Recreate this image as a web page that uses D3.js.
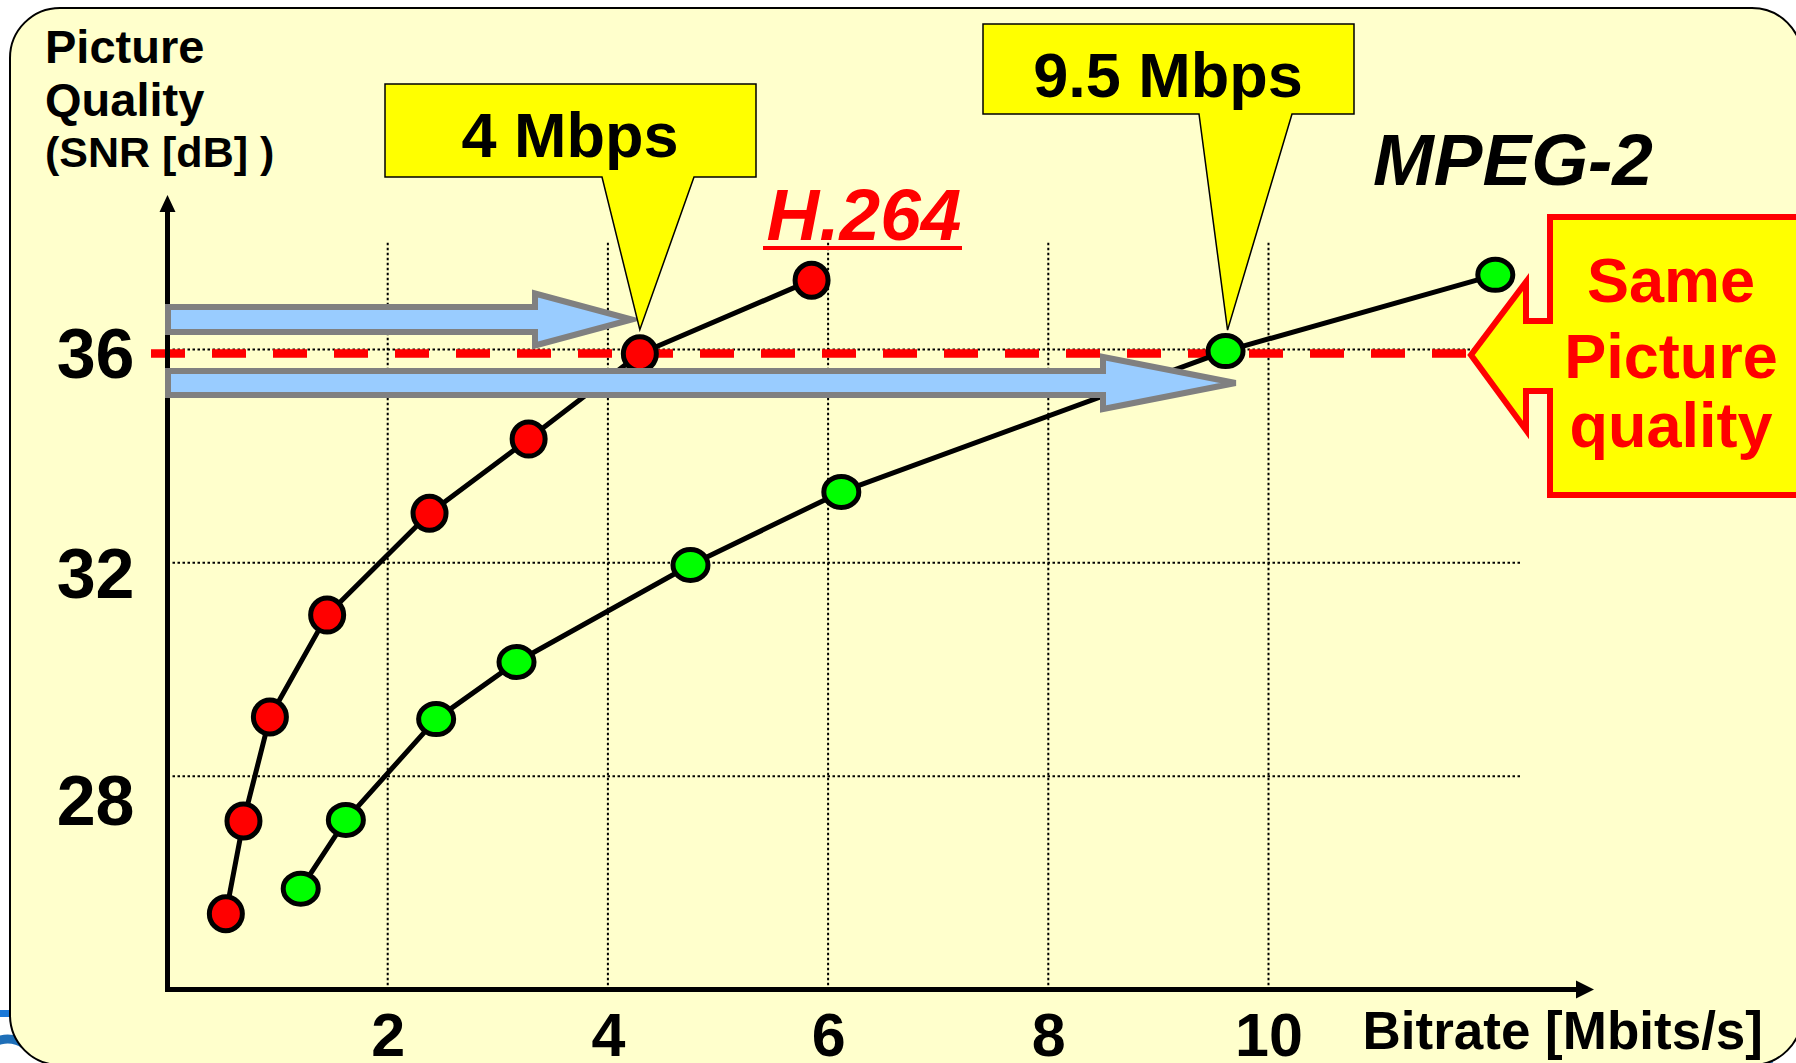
<!DOCTYPE html>
<html>
<head>
<meta charset="utf-8">
<script src="https://cdn.jsdelivr.net/npm/d3@7"></script>
<style>
html,body{margin:0;padding:0;background:#fff;}
svg{display:block;}
text{font-family:"Liberation Sans",Arial,Helvetica,sans-serif;font-weight:bold;}
</style>
</head>
<body>
<svg id="chart" width="1796" height="1063"></svg>
<script>
// ---------- data ----------
const h264Rate  = [0.53, 0.69, 0.93, 1.45, 2.38, 3.28, 4.29, 5.85];
const h264Snr   = [25.42, 27.16, 29.11, 31.02, 32.93, 34.32, 35.92, 37.30];
const mpeg2Rate = [1.21, 1.62, 2.44, 3.17, 4.75, 6.12, 9.61, 12.06];
const mpeg2Snr  = [25.89, 27.18, 29.07, 30.14, 31.96, 33.33, 35.97, 37.40];
const xTicks = [2, 4, 6, 8, 10];
const yTicks = [28, 32, 36];
const xTickLabels = ["2", "4", "6", "8", "10"];
const yTickLabels = ["28", "32", "36"];
const sameQuality = 36;
const callout4 = "4 Mbps";
const callout95 = "9.5 Mbps";
const seriesNames = ["H.264", "MPEG-2"];

// ---------- layout ----------
const svg = d3.select("#chart");
const x = d3.scaleLinear().domain([0, 10]).range([167.5, 1268.5]);
const y = d3.scaleLinear().domain([24, 36]).range([989.5, 349.5]);
const gridTop = 38, gridRight = 12.3;
const yLabelNudge = {36: 27.5, 32: 35, 28: 48};

// decorative logo fragments behind the panel
svg.append("rect").attr("x", 0).attr("y", 1010).attr("width", 12).attr("height", 7).attr("fill", "#1a78d8");
svg.append("path").attr("d", "M-20,1063 A28,28 0 0 1 30,1050").attr("fill", "none").attr("stroke", "#1e6fb8").attr("stroke-width", 9);
svg.append("path").attr("d", "M1770,1063 A30,30 0 0 1 1800,1030").attr("fill", "none").attr("stroke", "#1e6fb8").attr("stroke-width", 6);

// panel
svg.append("rect").attr("x", 10).attr("y", 8).attr("width", 1792).attr("height", 1057)
  .attr("rx", 50).attr("ry", 50).attr("fill", "#FFFFCC").attr("stroke", "#000").attr("stroke-width", 2);

// grid
const grid = svg.append("g").attr("stroke", "#000").attr("stroke-width", 2).attr("stroke-dasharray", "2.5,2.5");
grid.selectAll("line.v").data(xTicks).join("line").attr("class", "v")
  .attr("x1", d => x(d)).attr("x2", d => x(d)).attr("y1", y(gridTop)).attr("y2", y(24));
grid.selectAll("line.h").data(yTicks).join("line").attr("class", "h")
  .attr("x1", x(0)).attr("x2", x(gridRight)).attr("y1", d => y(d)).attr("y2", d => y(d));

// red dashed "same quality" line
svg.append("line").attr("x1", 151).attr("x2", 1466)
  .attr("y1", y(sameQuality) + 4).attr("y2", y(sameQuality) + 4)
  .attr("stroke", "#FF0000").attr("stroke-width", 8.5).attr("stroke-dasharray", "34,27");

// axes lines with arrowheads
svg.append("line").attr("x1", x(0)).attr("x2", x(0)).attr("y1", y(24) + 2.5).attr("y2", 210)
  .attr("stroke", "#000").attr("stroke-width", 5);
svg.append("path").attr("d", `M${x(0)},195 L${x(0) - 8},212 L${x(0) + 8},212 Z`).attr("fill", "#000");
svg.append("line").attr("x1", x(0) - 2.5).attr("x2", 1578).attr("y1", y(24)).attr("y2", y(24))
  .attr("stroke", "#000").attr("stroke-width", 5);
svg.append("path").attr("d", `M1594,${y(24)} L1576,${y(24) - 9} L1576,${y(24) + 9} Z`).attr("fill", "#000");

// tick labels via d3 axes
const xAxis = svg.append("g").attr("transform", `translate(0,${y(24)})`)
  .call(d3.axisBottom(x).tickValues(xTicks).tickSize(0).tickFormat((d, i) => xTickLabels[i]));
xAxis.select(".domain").remove();
xAxis.selectAll("text").attr("y", 66).attr("dy", null)
  .attr("font-size", 61).attr("fill", "#000")
  .attr("font-family", '"Liberation Sans",Arial,sans-serif').attr("font-weight", "bold");

const yAxis = svg.append("g").attr("transform", `translate(${x(0)},0)`)
  .call(d3.axisLeft(y).tickValues(yTicks).tickSize(0).tickFormat((d, i) => yTickLabels[i]));
yAxis.select(".domain").remove();
yAxis.selectAll("text").attr("x", -33).attr("dy", null).attr("y", d => yLabelNudge[d])
  .attr("font-size", 70).attr("fill", "#000")
  .attr("font-family", '"Liberation Sans",Arial,sans-serif').attr("font-weight", "bold");

// series
const h264 = h264Rate.map((r, i) => [r, h264Snr[i]]);
const mpeg2 = mpeg2Rate.map((r, i) => [r, mpeg2Snr[i]]);
const line = d3.line().x(d => x(d[0])).y(d => y(d[1]));
[h264, mpeg2].forEach(s => {
  svg.append("path").attr("d", line(s)).attr("fill", "none").attr("stroke", "#000")
    .attr("stroke-width", 5).attr("stroke-linejoin", "round");
});
svg.selectAll("ellipse.h264").data(h264).join("ellipse").attr("class", "h264")
  .attr("cx", d => x(d[0])).attr("cy", d => y(d[1])).attr("rx", 16.5).attr("ry", 17)
  .attr("fill", "#FF0000").attr("stroke", "#000").attr("stroke-width", 5);
svg.selectAll("ellipse.mpeg2").data(mpeg2).join("ellipse").attr("class", "mpeg2")
  .attr("cx", d => x(d[0])).attr("cy", d => y(d[1])).attr("rx", 17.5).attr("ry", 15.5)
  .attr("fill", "#00FF00").attr("stroke", "#000").attr("stroke-width", 5);

// blue block arrows
function blockArrow(x0, cy, halfShaft, headX, halfHead, tipX) {
  return `M${x0},${cy - halfShaft} H${headX} V${cy - halfHead} L${tipX},${cy} L${headX},${cy + halfHead} V${cy + halfShaft} H${x0} Z`;
}
const arrowStyle = p => p.attr("fill", "#99CCFF").attr("stroke", "#808080").attr("stroke-width", 6).attr("stroke-linejoin", "miter");
svg.append("path").attr("d", blockArrow(168, y(sameQuality) - 30, 12.5, 535, 26, x(h264Rate[6]) - 8)).call(arrowStyle);
svg.append("path").attr("d", blockArrow(168, y(sameQuality) + 33.5, 12, 1103, 26, x(mpeg2Rate[6]) + 10)).call(arrowStyle);

// yellow callouts
function callout(x0, y0, x1, y1, b0, b1, tx, ty) {
  return `M${x0},${y0} H${x1} V${y1} H${b1} L${tx},${ty} L${b0},${y1} H${x0} Z`;
}
svg.append("path").attr("d", callout(385, 84, 756, 177, 602, 694, x(h264Rate[6]), y(h264Snr[6]) - 24))
  .attr("fill", "#FFFF00").attr("stroke", "#000").attr("stroke-width", 1.5);
svg.append("text").attr("x", 570).attr("y", 157).attr("text-anchor", "middle")
  .attr("font-size", 63).attr("fill", "#000").text(callout4);
svg.append("path").attr("d", callout(983, 24, 1354, 114, 1199, 1292, x(mpeg2Rate[6]) + 2, y(mpeg2Snr[6]) - 21))
  .attr("fill", "#FFFF00").attr("stroke", "#000").attr("stroke-width", 1.5);
svg.append("text").attr("x", 1168).attr("y", 97).attr("text-anchor", "middle")
  .attr("font-size", 63).attr("fill", "#000").text(callout95);

// series labels
svg.append("text").attr("x", 864).attr("y", 240).attr("text-anchor", "middle")
  .attr("font-size", 73).attr("font-style", "italic").attr("fill", "#FF0000").text(seriesNames[0]);
svg.append("line").attr("x1", 763).attr("x2", 962).attr("y1", 248).attr("y2", 248)
  .attr("stroke", "#FF0000").attr("stroke-width", 4);
svg.append("text").attr("x", 1513).attr("y", 185).attr("text-anchor", "middle")
  .attr("font-size", 73).attr("font-style", "italic").attr("fill", "#000").text(seriesNames[1]);

// "Same Picture quality" arrow box
svg.append("path").attr("d", "M1550,217 H1812 V495 H1550 V391 H1526 V430 L1471,355 L1526,282 V321 H1550 Z")
  .attr("fill", "#FFFF00").attr("stroke", "#FF0000").attr("stroke-width", 6).attr("stroke-linejoin", "miter");
const sameLines = ["Same", "Picture", "quality"];
const sameBase = [302, 378, 447];
svg.selectAll("text.same").data(sameLines).join("text").attr("class", "same")
  .attr("x", 1671).attr("y", (d, i) => sameBase[i]).attr("text-anchor", "middle")
  .attr("font-size", 63).attr("fill", "#FF0000").text(d => d);

// axis titles
const yTitle = ["Picture", "Quality", "(SNR [dB] )"];
const yTitleBase = [63, 116, 167];
const yTitleSize = [47, 47, 43];
svg.selectAll("text.ytitle").data(yTitle).join("text").attr("class", "ytitle")
  .attr("x", 45).attr("y", (d, i) => yTitleBase[i]).attr("font-size", (d, i) => yTitleSize[i])
  .attr("fill", "#000").text(d => d);
svg.append("text").attr("x", 1763).attr("y", 1049).attr("text-anchor", "end")
  .attr("font-size", 53).attr("fill", "#000").text("Bitrate [Mbits/s]");
</script>
</body>
</html>
